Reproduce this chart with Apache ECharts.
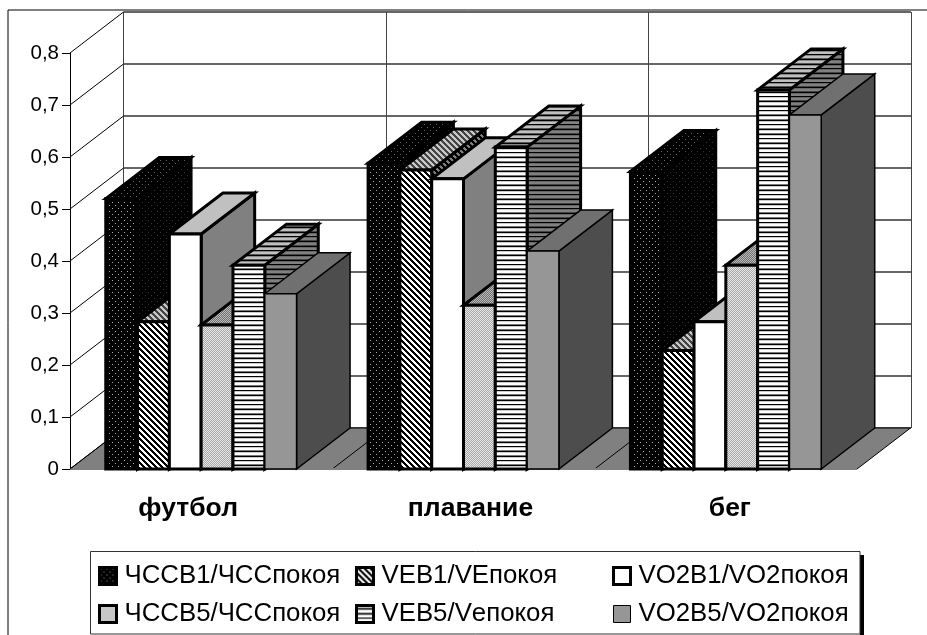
<!doctype html>
<html lang="ru">
<head>
    <meta charset="UTF-8">
    <title>chart</title>
    <script src="https://cdn.jsdelivr.net/npm/echarts@6/dist/echarts.min.js"></script>
    <style>
        html, body { margin: 0; padding: 0; background: #fff; }
        #chart { width: 927px; height: 635px; }
    </style>
</head>
<body>
<div id="chart"></div>
<script type="text/javascript">
    // data
    var categories = ['футбол', 'плавание', 'бег'];
    var yTicks = [0, 0.1, 0.2, 0.3, 0.4, 0.5, 0.6, 0.7, 0.8];
    var hssB1 = [0.52, 0.588, 0.572];
    var veB1 = [0.283, 0.575, 0.228];
    var vo2B1 = [0.452, 0.558, 0.283];
    var hssB5 = [0.277, 0.315, 0.392];
    var veB5 = [0.392, 0.619, 0.729];
    var vo2B5 = [0.337, 0.419, 0.681];
    var seriesNames = ['ЧССВ1/ЧССпокоя', 'VEB1/VEпокоя', 'VO2B1/VO2покоя', 'ЧССB5/ЧССпокоя', 'VEB5/Vепокоя', 'VO2B5/VO2покоя'];
    var seriesValues = [hssB1, veB1, vo2B1, hssB5, veB5, vo2B5];

    var FONT = '"Liberation Sans", Arial, sans-serif';
    var DX = 53.5, DY = -41, BAR_W = 31.8;

    // pattern tile from rows of characters
    var tile = function (rows, colors) {
        var c = document.createElement('canvas');
        c.width = rows[0].length;
        c.height = rows.length;
        var ctx = c.getContext('2d');
        rows.forEach(function (row, y) {
            for (var x = 0; x < row.length; x++) {
                ctx.fillStyle = colors[row.charAt(x)];
                ctx.fillRect(x, y, 1, 1);
            }
        });
        return { image: c, repeat: 'repeat' };
    };
    var dotsRows = ['......', '.a....', '......', '......', '....a.', '......'];
    var diagRows = ['aaa...', '.aaa..', '..aaa.', '...aaa', 'a...aa', 'aa...a'];
    var speckRows = ['a.a.', '.a.a', 'a.a.', '.a.a'];
    var stripeRows = ['a', 'a', 'b', '.', 'c', 'a', 'a', 'b', '.', 'c', 'a', 'a', '.', 'c'];

    var faces = [
        { front: tile(dotsRows, { a: '#aaa', '.': '#000' }), top: tile(dotsRows, { a: '#666', '.': '#000' }), side: tile(dotsRows, { a: '#333', '.': '#000' }), lw: 3 },
        { front: tile(diagRows, { a: '#000', '.': '#fff' }), top: tile(diagRows, { a: '#444', '.': '#c8c8c8' }), side: tile(diagRows, { a: '#000', '.': '#808080' }), lw: 3 },
        { front: '#fff', top: '#c0c0c0', side: '#808080', lw: 3 },
        { front: tile(speckRows, { a: '#e6e6e6', '.': '#a8a8a8' }), top: tile(speckRows, { a: '#bbb', '.': '#707070' }), side: tile(speckRows, { a: '#888', '.': '#555' }), lw: 3 },
        { front: tile(stripeRows, { a: '#fff', b: '#777', '.': '#000', c: '#ccc' }), top: tile(stripeRows, { a: '#c0c0c0', b: '#555', '.': '#000', c: '#888' }), side: tile(stripeRows, { a: '#808080', b: '#444', '.': '#000', c: '#666' }), lw: 3 },
        { front: '#969696', top: '#707070', side: '#4d4d4d', lw: 1.5 }
    ];

    var barSeries = seriesValues.map(function (values, s) {
        return {
            type: 'custom',
            name: seriesNames[s],
            xAxisIndex: 0,
            yAxisIndex: 0,
            z: 5 + s,
            clip: false,
            silent: true,
            animation: false,
            itemStyle: { color: faces[s].front },
            encode: { x: 0, y: 1 },
            data: values.map(function (v, i) { return [i, v]; }),
            renderItem: function (params, api) {
                var top = api.coord([api.value(0), api.value(1)]);
                var base = api.coord([api.value(0), 0]);
                var x0 = top[0] + (s - 3) * BAR_W;
                var x1 = x0 + BAR_W;
                var stroke = { stroke: '#000', lineWidth: faces[s].lw, lineJoin: 'miter' };
                var poly = function (pts, fill) {
                    return { type: 'polygon', shape: { points: pts }, style: Object.assign({ fill: fill }, stroke) };
                };
                return {
                    type: 'group',
                    children: [
                        poly([[x1, top[1]], [x1 + DX, top[1] + DY], [x1 + DX, base[1] + DY], [x1, base[1]]], faces[s].side),
                        poly([[x0, top[1]], [x0 + DX, top[1] + DY], [x1 + DX, top[1] + DY], [x1, top[1]]], faces[s].top),
                        poly([[x0, top[1]], [x1, top[1]], [x1, base[1]], [x0, base[1]]], faces[s].front)
                    ]
                };
            }
        };
    });

    // left wall diagonals
    var wallSeries = {
        type: 'custom',
        xAxisIndex: 0,
        yAxisIndex: 0,
        z: 2,
        clip: false,
        silent: true,
        animation: false,
        data: yTicks.map(function (v) { return [0, v]; }),
        encode: { x: 0, y: 1 },
        renderItem: function (params, api) {
            var y = api.coord([0, api.value(1)])[1];
            var x = params.coordSys.x;
            return { type: 'line', shape: { x1: x, y1: y, x2: x + DX, y2: y + DY }, style: { stroke: '#000', lineWidth: 1 } };
        }
    };

    // floor with category dividers
    var floorSeries = {
        type: 'custom',
        xAxisIndex: 0,
        yAxisIndex: 0,
        z: 1,
        clip: false,
        silent: true,
        animation: false,
        data: [[0, 0]],
        encode: { x: 0, y: 1 },
        renderItem: function (params, api) {
            var y = api.coord([0, 0])[1];
            var x = params.coordSys.x, w = params.coordSys.width;
            var children = [{
                type: 'polygon',
                shape: { points: [[x, y], [x + w, y], [x + w + DX, y + DY], [x + DX, y + DY]] },
                style: { fill: '#808080', stroke: '#000', lineWidth: 1 }
            }];
            for (var i = 1; i < categories.length; i++) {
                var lx = x + w * i / categories.length;
                children.push({ type: 'line', shape: { x1: lx, y1: y, x2: lx + DX, y2: y + DY }, style: { stroke: '#000', lineWidth: 1 } });
            }
            children.push({ type: 'line', shape: { x1: x, y1: y, x2: x + w, y2: y }, style: { stroke: '#808080', lineWidth: 2 } });
            return { type: 'group', children: children };
        }
    };

    var legendColumn = function (left, a, b) {
        var item = function (s) {
            return {
                name: seriesNames[s],
                icon: 'rect',
                itemStyle: { color: faces[s].front, borderColor: '#000', borderWidth: s === 5 ? 1 : 3 }
            };
        };
        return {
            orient: 'vertical',
            left: left,
            top: 563,
            padding: 0,
            itemWidth: 17,
            itemHeight: 17,
            itemGap: 12,
            selectedMode: false,
            textStyle: { fontFamily: FONT, fontSize: 25.8, color: '#000', padding: [0, 0, 0, 3] },
            data: [item(a), item(b)]
        };
    };

    var catLabel = function (pad) {
        return { fontFamily: FONT, fontSize: 26.5, fontWeight: 'bold', color: '#000', padding: pad };
    };

    var option = {
        animation: false,
        backgroundColor: '#fff',
        grid: [
            { left: 70, top: 53, width: 787, height: 416 },
            { left: 123.5, top: 12, width: 787.5, height: 416 }
        ],
        xAxis: [
            {
                type: 'category',
                gridIndex: 0,
                data: categories,
                axisLine: { show: false },
                axisTick: { show: false },
                axisLabel: {
                    margin: 26,
                    formatter: function (v, i) { return '{c' + i + '|' + v + '}'; },
                    rich: { c0: catLabel([0, 26, 0, 0]), c1: catLabel([0, 0, 0, 14]), c2: catLabel([0, 0, 0, 8]) }
                }
            },
            {
                type: 'category',
                gridIndex: 1,
                data: categories,
                axisLine: { show: false },
                axisTick: { show: false },
                axisLabel: { show: false },
                splitLine: { show: true, lineStyle: { color: '#444', width: 1 } }
            }
        ],
        yAxis: [
            {
                type: 'value',
                gridIndex: 0,
                min: 0,
                max: 0.8,
                interval: 0.1,
                axisLine: { show: true, lineStyle: { color: '#000', width: 1 } },
                axisTick: { show: true, length: 8, lineStyle: { color: '#000', width: 1 } },
                axisLabel: {
                    margin: 11,
                    color: '#000',
                    fontFamily: FONT,
                    fontSize: 20.5,
                    formatter: function (v) { return String(v).replace('.', ','); }
                },
                splitLine: { show: false }
            },
            {
                type: 'value',
                gridIndex: 1,
                min: 0,
                max: 0.8,
                interval: 0.1,
                axisLine: { show: false },
                axisTick: { show: false },
                axisLabel: { show: false },
                splitLine: { show: true, lineStyle: { color: '#666', width: 2 } }
            }
        ],
        legend: [legendColumn(98, 0, 3), legendColumn(355, 1, 4), legendColumn(612, 2, 5)],
        graphic: [
            { type: 'polyline', z: 0, shape: { points: [[8, 635], [8, 10], [927, 10]] }, style: { fill: null, stroke: '#000', lineWidth: 1 } },
            { type: 'rect', z: 0, shape: { x: 860, y: 555, width: 4, height: 80 }, style: { fill: '#000' } },
            { type: 'rect', z: 0, shape: { x: 90.5, y: 551.5, width: 769.5, height: 82.5 }, style: { fill: '#fff', stroke: '#333', lineWidth: 1 } }
        ],
        series: [floorSeries, wallSeries].concat(barSeries)
    };

    var myChart = echarts.init(document.getElementById('chart'));
    myChart.setOption(option);
</script>
</body>
</html>
